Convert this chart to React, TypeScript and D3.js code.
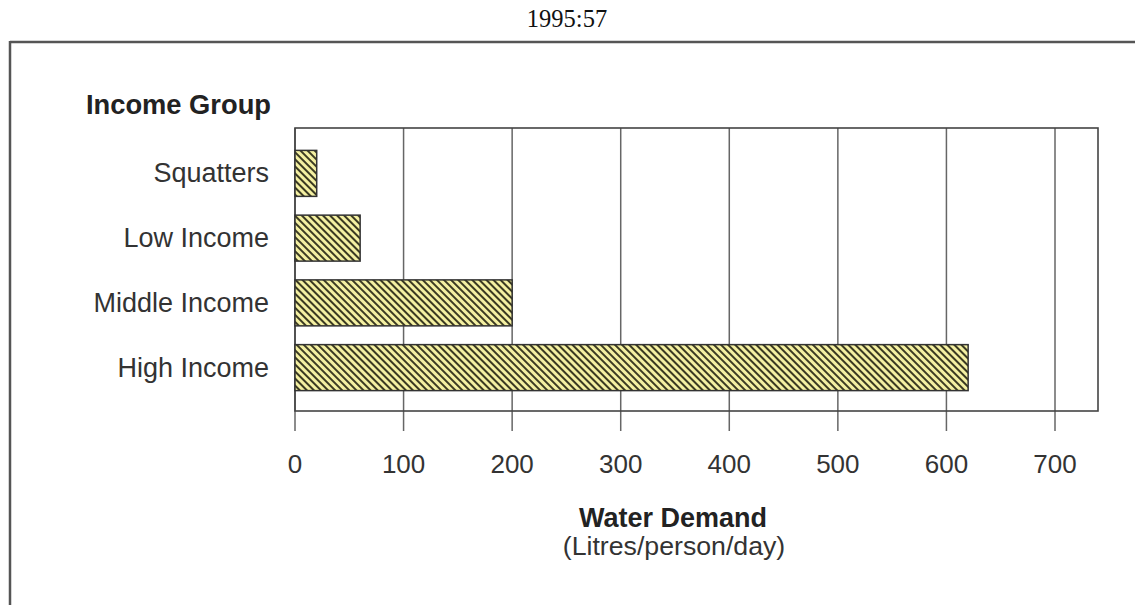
import React from "react";
import * as d3 from "d3";

const categories = ["Squatters", "Low Income", "Middle Income", "High Income"];
const values = [20, 60, 200, 620];
const ticks = [0, 100, 200, 300, 400, 500, 600, 700];
const title = "1995:57";
const yTitle = "Income Group";
const xTitle = "Water Demand";
const xSubtitle = "(Litres/person/day)";

export default function App() {
  const W = 1135, H = 605;
  const left = 295, right = 1098, top = 128, bottom = 411;
  const x = d3.scaleLinear().domain([0, 700]).range([295, 1055]);
  const y = d3.scaleBand<string>().domain(categories).range([141, 400]).paddingInner(0.29).paddingOuter(0.145);
  const sans = "Liberation Sans, Arial, sans-serif";
  return (
    <svg width={W} height={H} style={{ position: "absolute", left: 0, top: 0, background: "#fff" }}>
      <defs>
        <pattern id="hatch" patternUnits="userSpaceOnUse" width={5} height={5} patternTransform="rotate(-45)">
          <rect width={5} height={5} fill="#f4f0a2" />
          <line x1={1} y1={0} x2={1} y2={5} stroke="#3b3a22" strokeWidth={2} />
        </pattern>
      </defs>
      <text x={567} y={27} textAnchor="middle" fontFamily="Liberation Serif, Times New Roman, serif" fontSize={24.5} fill="#111">{title}</text>
      <line x1={10} y1={42} x2={W} y2={42} stroke="#555" strokeWidth={2.5} />
      <line x1={10} y1={41} x2={10} y2={H} stroke="#555" strokeWidth={2.5} />
      {ticks.map((t) => (
        <g key={t}>
          <line x1={x(t)} x2={x(t)} y1={top} y2={431} stroke="#666" strokeWidth={1.5} />
          <text x={x(t)} y={473} textAnchor="middle" fontFamily={sans} fontSize={26} fill="#333">{t}</text>
        </g>
      ))}
      <rect x={left} y={top} width={right - left} height={bottom - top} fill="none" stroke="#444" strokeWidth={1.6} />
      {categories.map((c, i) => (
        <g key={c}>
          <rect x={x(0)} y={y(c)!} width={x(values[i]) - x(0)} height={y.bandwidth()} fill="url(#hatch)" stroke="#333" strokeWidth={1.5} />
          <text x={269} y={y(c)! + y.bandwidth() / 2 + 9} textAnchor="end" fontFamily={sans} fontSize={27} fill="#333">{c}</text>
        </g>
      ))}
      <text x={271} y={114} textAnchor="end" fontFamily={sans} fontSize={27.3} fontWeight="bold" fill="#222">{yTitle}</text>
      <text x={673} y={527} textAnchor="middle" fontFamily={sans} fontSize={27} fontWeight="bold" fill="#222">{xTitle}</text>
      <text x={674} y={555} textAnchor="middle" fontFamily={sans} fontSize={26.7} fill="#333">{xSubtitle}</text>
    </svg>
  );
}
